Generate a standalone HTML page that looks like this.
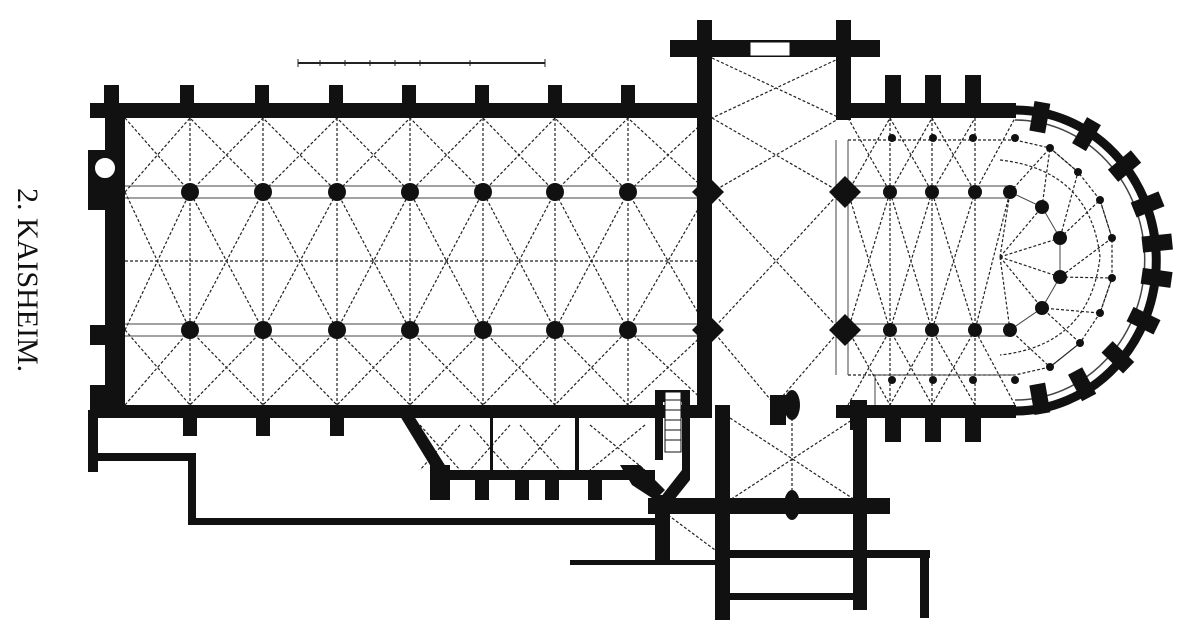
<!DOCTYPE html>
<html><head><meta charset="utf-8"><style>
html,body{margin:0;padding:0;background:#fff;width:1200px;height:638px;overflow:hidden}
svg{display:block}
</style></head><body>
<svg width="1200" height="638" viewBox="0 0 1200 638" xmlns="http://www.w3.org/2000/svg">
<rect width="1200" height="638" fill="#fff"/>
<text transform="translate(18,188) rotate(90)" font-family="Liberation Serif,serif" font-size="30" fill="#111">2.  KAISHEIM.</text>
<line x1="298" y1="63" x2="545" y2="63" stroke="#222" stroke-width="2"/>
<g stroke="#222" stroke-width="1">
<line x1="298" y1="59" x2="298" y2="67"/><line x1="320" y1="60" x2="320" y2="66"/><line x1="345" y1="60" x2="345" y2="66"/><line x1="370" y1="60" x2="370" y2="66"/><line x1="395" y1="60" x2="395" y2="66"/><line x1="420" y1="60" x2="420" y2="66"/><line x1="470" y1="60" x2="470" y2="66"/><line x1="545" y1="59" x2="545" y2="67"/>
</g>
<g stroke="#222" stroke-width="1.2" stroke-dasharray="3,2" fill="none">
<path d="M125 118 L190 192 L263 118 L337 192 L410 118 L483 192 L555 118 L628 192 L708 118 M125 192 L190 118 L263 192 L337 118 L410 192 L483 118 L555 192 L628 118 L708 192"/>
<path d="M125 405 L190 330 L263 405 L337 330 L410 405 L483 330 L555 405 L628 330 L708 405 M125 330 L190 405 L263 330 L337 405 L410 330 L483 405 L555 330 L628 405 L708 330"/>
<path d="M190 118 V405 M263 118 V405 M337 118 V405 M410 118 V405 M483 118 V405 M555 118 V405 M628 118 V405"/>
<path d="M125 192 L190 330 L263 192 L337 330 L410 192 L483 330 L555 192 L628 330 L708 192 M125 330 L190 192 L263 330 L337 192 L410 330 L483 192 L555 330 L628 192 L708 330"/>
<path d="M125 261 H708"/>
<path d="M712 118 L840 192 M840 118 L712 192 M712 192 L840 330 M840 192 L712 330 M712 330 L775 405 L840 330 M712 58 L840 118 M840 58 L712 118"/>
<path d="M848 118 L890 192 L932 118 L975 192 L1015 118 M848 192 L890 118 L932 192 L975 118 M848 192 L890 330 L932 192 L975 330 L1010 192 M848 330 L890 192 L932 330 L975 192 M848 405 L890 330 L932 405 L975 330 L1015 405 M848 330 L890 405 L932 330 L975 405"/>
<path d="M848 140 H1015 M848 375 H1015 M890 118 V405 M932 118 V405 M975 118 V405"/>
<path d="M1000 257 L1042 207 M1000 257 L1060 238 M1000 257 L1060 277 M1000 257 L1042 308 M1000 257 L1010 192 M1000 257 L1010 330"/>
<path d="M1042 207 L1050 148 L1078 172 L1060 238 L1100 200 L1112 238 L1060 277 L1112 278 L1100 313 L1042 308 L1080 343 L1050 367 L1010 330"/>
<path d="M1010 192 L1050 148 M1015 140 L1050 148 L1078 172 L1100 200 L1112 238 L1112 278 L1100 313 L1080 343 L1050 367 L1015 375"/>
<path d="M1000 160 Q1090 170 1100 257 Q1090 345 1000 355"/>
<path d="M730 418 L855 500 M855 418 L730 500 M792 418 V500 M668 515 L715 550 M420 425 L460 470 M460 425 L420 470 M470 425 L510 470 M510 425 L470 470 M520 425 L560 470 M560 425 L520 470 M590 425 L645 470 M645 425 L590 470"/>
</g>
<g stroke="#444" stroke-width="1" fill="none">
<path d="M125 186 H700 M125 198 H700 M125 324 H700 M125 336 H700 M850 186 H1010 M850 198 H1010 M850 324 H1010 M850 336 H1010"/>
<path d="M836 140 V375 M848 140 V375 M1010 192 L1042 207 L1060 238 L1060 277 L1042 308 L1010 330"/>
<path d="M875 375 V405 M875 375 H1015"/>
</g>
<g fill="#111">
<rect x="90" y="103" width="622" height="15"/>
<rect x="90" y="405" width="622" height="13"/>
<rect x="105" y="103" width="20" height="315"/>
<rect x="88" y="150" width="25" height="60"/>
<rect x="90" y="325" width="20" height="20"/>
<rect x="90" y="385" width="20" height="25"/>
<rect x="104" y="85" width="15" height="20"/><rect x="180" y="85" width="14" height="20"/><rect x="255" y="85" width="14" height="20"/><rect x="329" y="85" width="14" height="20"/><rect x="402" y="85" width="14" height="20"/><rect x="475" y="85" width="14" height="20"/><rect x="548" y="85" width="14" height="20"/><rect x="621" y="85" width="14" height="20"/>
<rect x="183" y="416" width="14" height="20"/><rect x="256" y="416" width="14" height="20"/><rect x="330" y="416" width="14" height="20"/>
<circle cx="190" cy="192" r="9"/><circle cx="263" cy="192" r="9"/><circle cx="337" cy="192" r="9"/><circle cx="410" cy="192" r="9"/><circle cx="483" cy="192" r="9"/><circle cx="555" cy="192" r="9"/><circle cx="628" cy="192" r="9"/>
<circle cx="190" cy="330" r="9"/><circle cx="263" cy="330" r="9"/><circle cx="337" cy="330" r="9"/><circle cx="410" cy="330" r="9"/><circle cx="483" cy="330" r="9"/><circle cx="555" cy="330" r="9"/><circle cx="628" cy="330" r="9"/>
<polygon points="708,176 724,192 708,208 692,192"/><polygon points="708,314 724,330 708,346 692,330"/>
<polygon points="845,176 861,192 845,208 829,192"/><polygon points="845,314 861,330 845,346 829,330"/>
<circle cx="890" cy="192" r="7"/><circle cx="932" cy="192" r="7"/><circle cx="975" cy="192" r="7"/><circle cx="1010" cy="192" r="7"/>
<circle cx="890" cy="330" r="7"/><circle cx="932" cy="330" r="7"/><circle cx="975" cy="330" r="7"/><circle cx="1010" cy="330" r="7"/>
<circle cx="1042" cy="207" r="7"/><circle cx="1060" cy="238" r="7"/><circle cx="1060" cy="277" r="7"/><circle cx="1042" cy="308" r="7"/>
<circle cx="892" cy="138" r="4"/><circle cx="933" cy="138" r="4"/><circle cx="973" cy="138" r="4"/><circle cx="1015" cy="138" r="4"/>
<circle cx="892" cy="380" r="4"/><circle cx="933" cy="380" r="4"/><circle cx="973" cy="380" r="4"/><circle cx="1015" cy="380" r="4"/>
<circle cx="1050" cy="148" r="4"/><circle cx="1078" cy="172" r="4"/><circle cx="1100" cy="200" r="4"/><circle cx="1112" cy="238" r="4"/><circle cx="1112" cy="278" r="4"/><circle cx="1100" cy="313" r="4"/><circle cx="1080" cy="343" r="4"/><circle cx="1050" cy="367" r="4"/>
<rect x="670" y="40" width="210" height="17"/>
<rect x="697" y="20" width="15" height="100"/><rect x="836" y="20" width="15" height="100"/>
<rect x="697" y="103" width="15" height="315"/>
<rect x="770" y="395" width="16" height="30"/>
<rect x="836" y="103" width="180" height="15"/>
<rect x="836" y="405" width="180" height="13"/>
<rect x="885" y="75" width="16" height="32"/><rect x="925" y="75" width="16" height="32"/><rect x="965" y="75" width="16" height="32"/>
<rect x="885" y="410" width="16" height="32"/><rect x="925" y="410" width="16" height="32"/><rect x="965" y="410" width="16" height="32"/>
<rect x="850" y="400" width="16" height="30"/>
</g>
<path d="M1015 110 A138 147 0 0 1 1015 411" fill="none" stroke="#111" stroke-width="9"/>
<path d="M1015 120 A126 136 0 0 1 1015 400" fill="none" stroke="#444" stroke-width="1.5"/>
<g fill="#111">
<g transform="translate(1015,258)">
<rect x="128" y="-8" width="30" height="16" transform="rotate(-80)"/>
<rect x="128" y="-8" width="30" height="16" transform="rotate(-60)"/>
<rect x="128" y="-8" width="30" height="16" transform="rotate(-40)"/>
<rect x="128" y="-8" width="30" height="16" transform="rotate(-22)"/>
<rect x="128" y="-8" width="30" height="16" transform="rotate(-6)" />
<rect x="128" y="-8" width="30" height="16" transform="rotate(8)"/>
<rect x="128" y="-8" width="30" height="16" transform="rotate(26)"/>
<rect x="128" y="-8" width="30" height="16" transform="rotate(44)"/>
<rect x="128" y="-8" width="30" height="16" transform="rotate(62)"/>
<rect x="128" y="-8" width="30" height="16" transform="rotate(80)"/>
</g>
<rect x="88" y="410" width="10" height="62"/>
<rect x="88" y="453" width="108" height="8"/>
<rect x="188" y="453" width="8" height="72"/>
<rect x="188" y="518" width="472" height="7"/>
<polygon points="400,416 414,416 448,470 436,475"/>
<rect x="430" y="465" width="20" height="35"/>
<rect x="430" y="470" width="225" height="10"/>
<rect x="475" y="470" width="14" height="30"/><rect x="515" y="470" width="14" height="30"/><rect x="545" y="470" width="14" height="30"/><rect x="588" y="470" width="14" height="30"/>
<rect x="575" y="416" width="4" height="56"/><rect x="490" y="416" width="3" height="56"/>
<polygon points="620,465 640,465 665,490 655,500 632,485"/>
<rect x="655" y="390" width="33" height="12"/><rect x="655" y="390" width="8" height="70"/><rect x="682" y="390" width="8" height="90"/>
<polygon points="682,470 690,480 670,505 660,498"/>
<rect x="655" y="495" width="15" height="70"/>
<rect x="648" y="498" width="242" height="16"/>
<rect x="715" y="405" width="15" height="215"/>
<rect x="853" y="400" width="14" height="210"/>
<rect x="730" y="550" width="200" height="8"/>
<rect x="730" y="593" width="130" height="7"/>
<rect x="920" y="550" width="9" height="68"/>
<rect x="570" y="560" width="150" height="5"/>
<ellipse cx="792" cy="505" rx="8" ry="15"/>
<ellipse cx="792" cy="405" rx="8" ry="15"/>
</g>
<circle cx="105" cy="168" r="11" fill="#fff" stroke="#111" stroke-width="2"/>
<rect x="665" y="392" width="16" height="60" fill="#fff" stroke="#111" stroke-width="1"/>
<g stroke="#111"><line x1="665" y1="400" x2="681" y2="400"/><line x1="665" y1="410" x2="681" y2="410"/><line x1="665" y1="420" x2="681" y2="420"/><line x1="665" y1="430" x2="681" y2="430"/><line x1="665" y1="440" x2="681" y2="440"/></g>
<rect x="750" y="42" width="40" height="14" fill="#fff" stroke="#111"/>
</svg>
</body></html>
